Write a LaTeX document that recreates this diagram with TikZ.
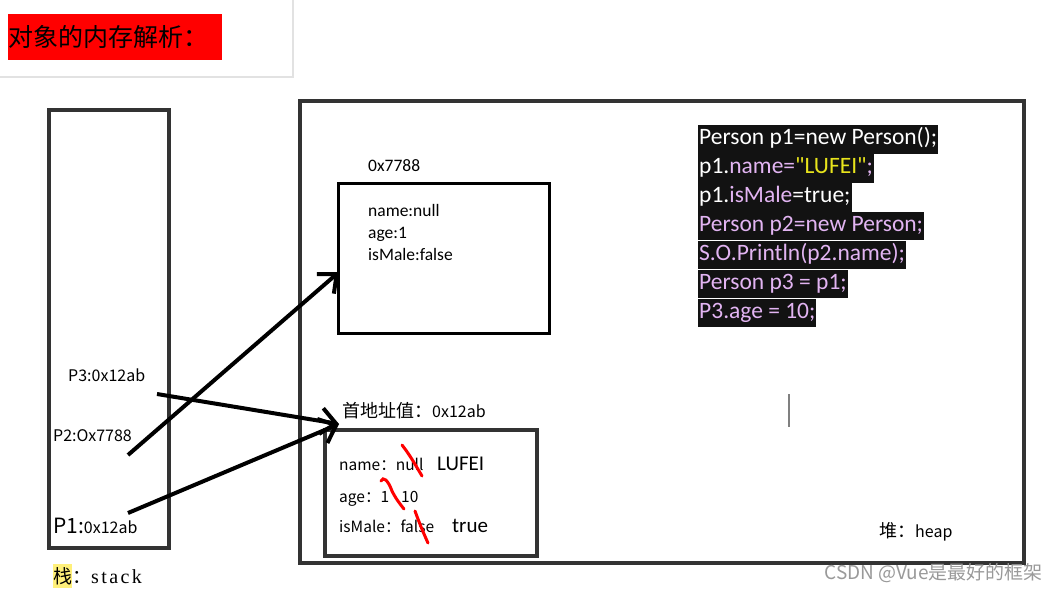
\documentclass[tikz,border=0pt]{standalone}
\usepackage{fontspec}
\setmainfont{Carlito}
\newfontfamily\codefont{Carlito}[Ligatures=TeXOff]
\newfontfamily\cjk{Noto Sans CJK SC}
\newfontfamily\songti{Liberation Serif}[LetterSpace=12]
\usetikzlibrary{arrows.meta}
\definecolor{boxgray}{HTML}{333333}
\definecolor{lavender}{HTML}{E2B4F2}
\definecolor{codeyellow}{HTML}{E8E41C}
\definecolor{framegray}{HTML}{E2E2E2}
\definecolor{markyellow}{HTML}{FFF07A}

\begin{document}
\begin{tikzpicture}[x=1pt, y=-1pt, >={Straight Barb[length=15pt,width=26pt]},
  frame/.style={draw=boxgray, line width=4pt, inner sep=0pt},
  field/.style={anchor=base west, inner sep=0pt, font=\fontsize{17.5}{20}\selectfont},
  slot/.style={anchor=base west, inner sep=0pt, font=\cjk\fontsize{15.5}{18}\selectfont},
  big/.style={anchor=base west, inner sep=0pt, font=\fontsize{21}{24}\selectfont},
  codeline/.style={fill=black!93, anchor=north west, inner xsep=1pt, inner ysep=0pt,
    minimum height=28.5pt, text height=16pt, text depth=5pt, font=\codefont\fontsize{23.5}{26}\selectfont},
  pointer/.style={->, line width=4pt},
  strike/.style={red, line width=3pt, line cap=round}]
\useasboundingbox (0,0) rectangle (1058,592);

% title
\draw[framegray, line width=1.5pt] (293,0) -- (293,77) -- (0,77);
\node[fill=red, anchor=west, inner sep=0pt, minimum height=46pt, text width=214pt,
  font=\cjk\fontsize{25}{28}\selectfont] (title) at (8,37) {对象的内存解析：};

% stack and heap
\node[frame, minimum width=120pt, minimum height=438pt] (stack) at (109,329) {};
\node[frame, minimum width=724pt, minimum height=462pt] (heap) at (662,332) {};

% object 0x7788
\node[frame, draw=black, line width=3pt, minimum width=211pt, minimum height=150pt] (obj1) at (443.5,258) {};
\node[field] (addr1) at (368,171) {0x7788};
\node[field] (name1) at (368,216) {name:null};
\node[field] (age1) at (368,238) {age:1};
\node[field] (male1) at (368,260) {isMale:false};

% object 0x12ab
\node[frame, minimum width=212pt, minimum height=126pt] (obj2) at (431,493) {};
\node[slot, font=\cjk\fontsize{18}{21}\selectfont] (addr2) at (342,417) {首地址值：{\fontsize{16}{19}\selectfont 0x12ab}};
\node[slot] (name2) at (339,470) {name：null};
\node[big] (newname) at (437,470) {LUFEI};
\node[slot] (age2) at (339,502) {age：1};
\node[slot] (newage) at (401,502) {10};
\node[slot] (male2) at (339,532) {isMale：false};
\node[big] (newmale) at (452,532) {true};

% corrections
\draw[strike] (402,445) .. controls (410,455) and (416,466) .. (422,476);
\draw[strike] (381,481) .. controls (383,476) and (388,480) .. (392,491) .. controls (396,499) and (400,504) .. (404,509);
\draw[strike] (415,511) .. controls (419,522) and (423,532) .. (428,543);

% stack entries
\node[slot, font=\cjk\fontsize{16}{19}\selectfont] (p3) at (68,381) {P3:0x12ab};
\node[slot, font=\cjk\fontsize{16}{19}\selectfont] (p2) at (53,441) {P2:Ox7788};
\node[slot, font=\cjk\fontsize{16}{19}\selectfont] (p1) at (53,533) {{\fontsize{21}{23}\selectfont P1:}0x12ab};
\node[anchor=base west, inner sep=0pt, font=\fontsize{20}{23}\selectfont] (stacklbl) at (53,583)
  {\colorbox{markyellow}{\hspace{-3pt}\cjk\fontsize{19}{22}\selectfont 栈\hspace{-3pt}}{\cjk\fontsize{19}{22}\selectfont ：}\songti stack};

% references
\coordinate (f3) at (157,394);
\coordinate (f2) at (128,455);
\coordinate (f1) at (128,513);
\coordinate (to1) at (339,272);
\coordinate (to2) at (339,424);
\draw[pointer] (f2) -- (to1);
\draw[pointer] (f3) -- (to2);
\draw[pointer] (f1) -- (to2);

% code
\node[codeline, text=white] (c1) at (698,125) {Person p1=new Person();};
\node[codeline] (c2) at (c1.south west) {\color{white}p1.\color{lavender}name=\color{codeyellow}"LUFEI"\color{lavender};};
\node[codeline] (c3) at (c2.south west) {\color{white}p1.\color{lavender}isMale\color{white}=true;};
\node[codeline, text=lavender] (c4) at (c3.south west) {Person p2=new Person;};
\node[codeline, text=lavender] (c5) at (c4.south west) {S.O.Println(p2.name);};
\node[codeline, text=lavender] (c6) at (c5.south west) {Person p3 = p1;};
\node[codeline, text=lavender] (c7) at (c6.south west) {P3.age = 10;};

% cursor
\draw[gray, line width=1.5pt] (789,394) -- (789,427);

\node[anchor=base west, inner sep=0pt, font=\cjk\fontsize{18}{21}\selectfont] (heaplbl) at (879,537) {堆：{\fontsize{16}{19}\selectfont heap}};
\node[anchor=base east, inner sep=0pt, text=black!40, font=\cjk\fontsize{19}{22}\selectfont] (mark) at (1043,579) {CSDN @Vue是最好的框架};
\end{tikzpicture}
\end{document}
